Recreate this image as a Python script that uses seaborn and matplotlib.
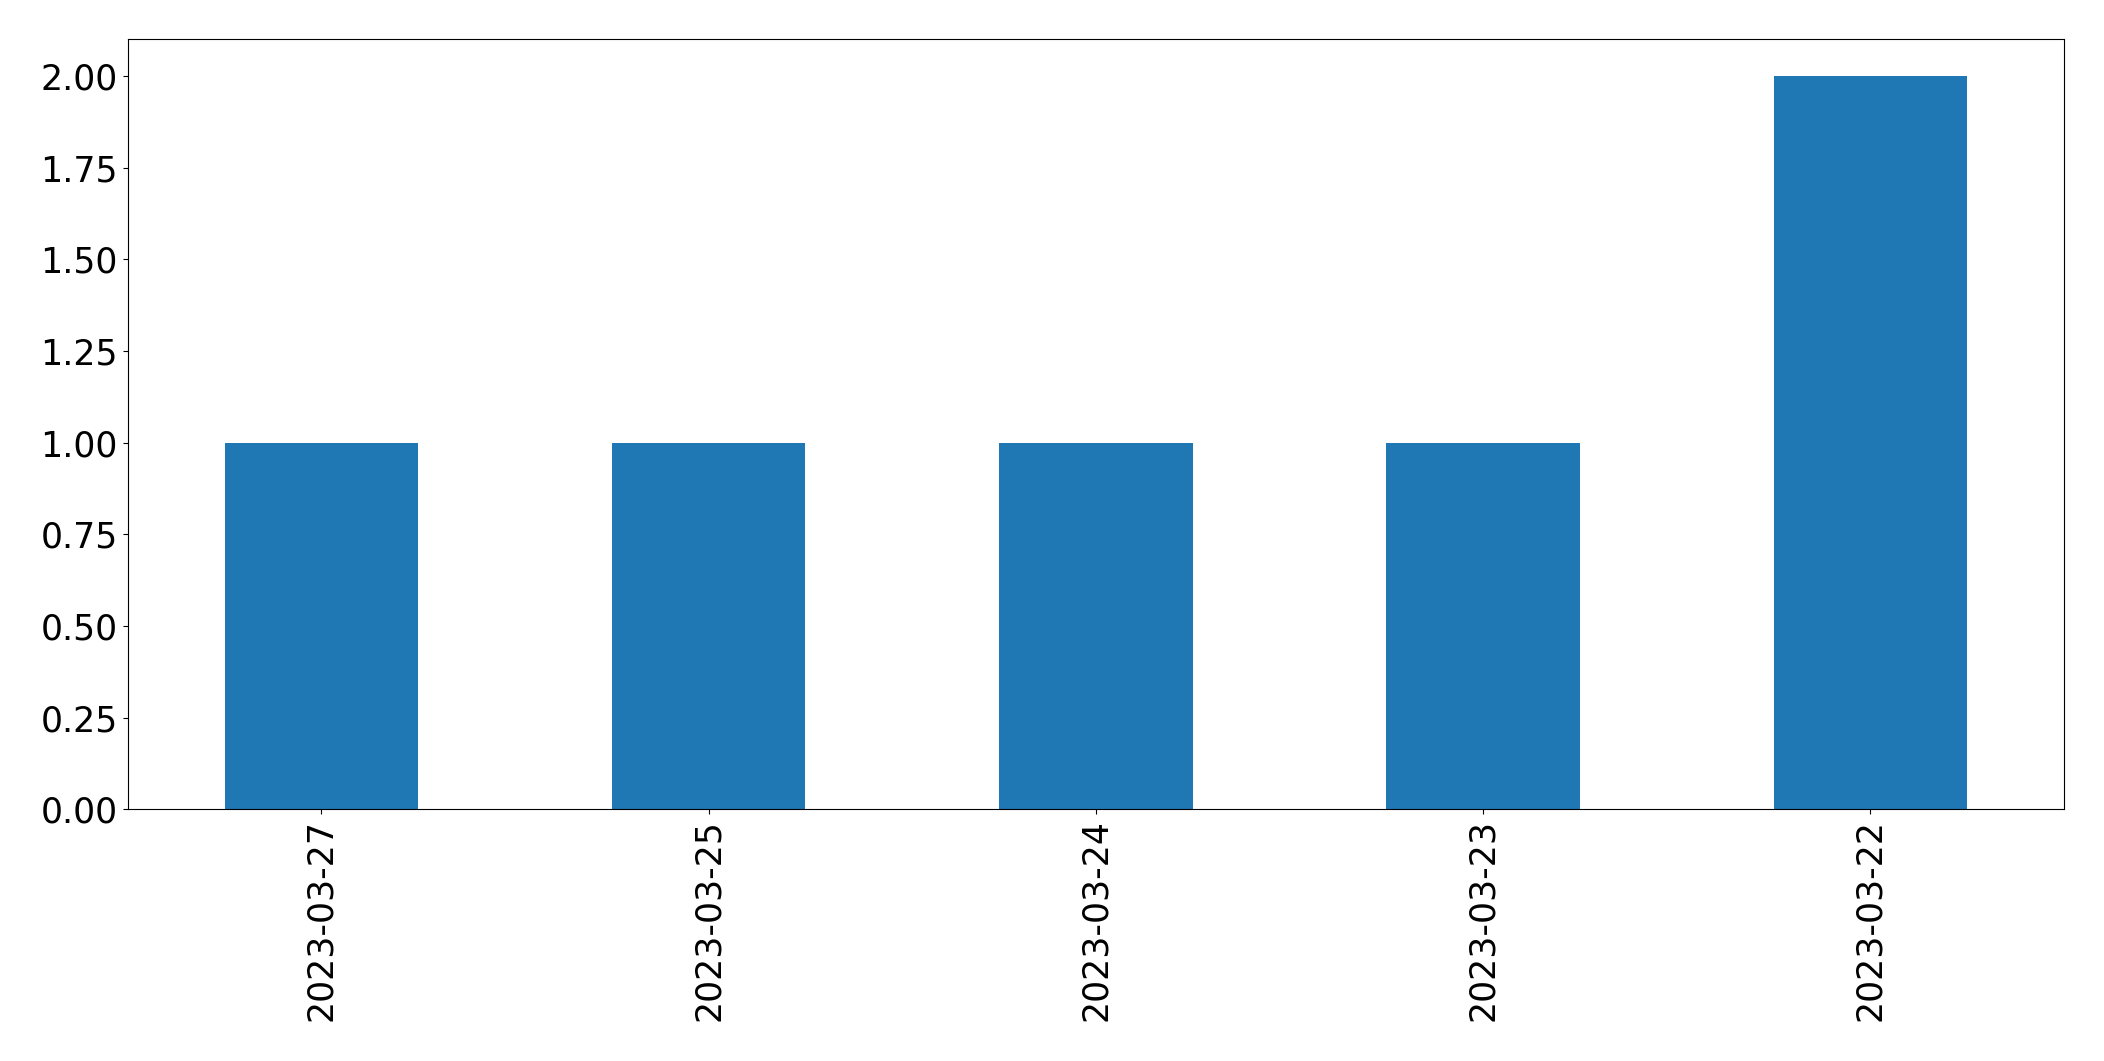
import pandas as pd
import seaborn as sns
import matplotlib
matplotlib.use("Agg")
import matplotlib.pyplot as plt

plt.rc('xtick', labelsize=25)
plt.rc('ytick', labelsize=25)

dates = ['2023-03-27', '2023-03-25', '2023-03-24', '2023-03-23', '2023-03-22']
counts = [1, 1, 1, 1, 2]

df = pd.DataFrame({"Date": dates, "Count": counts})

fig = plt.figure(figsize=(21.04, 10.61), dpi=100)
ax = fig.add_axes([0.0607, 0.2372, 0.9203, 0.7258])

g = sns.barplot(data=df, x="Date", y="Count", order=dates, color='#1f77b4',
                saturation=1, width=0.5, linewidth=0, ax=ax)

g.set_xlim(-0.5, len(dates) - 0.5)
g.set_ylim(0, 2.1)
g.set_xlabel("")
g.set_ylabel("")
g.tick_params(axis='x', rotation=90)
for s in g.spines.values():
    s.set_edgecolor('black')

fig.savefig("out.png", dpi=100)
